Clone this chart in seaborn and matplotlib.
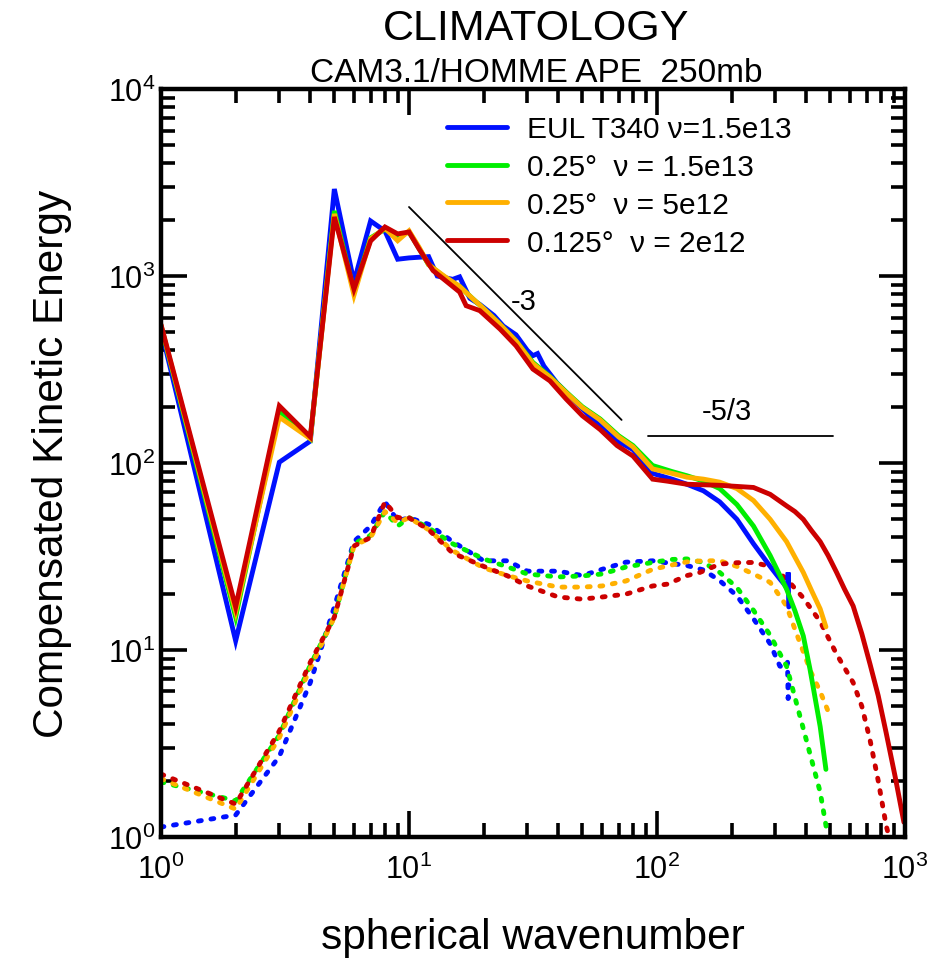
import numpy as np
import pandas as pd
import matplotlib
matplotlib.use("Agg")
import matplotlib.pyplot as plt
import matplotlib.ticker as mticker
import seaborn as sns

# ---------------- data ----------------
labels = ["EUL T340 \u03bd=1.5e13", "0.25\u00b0  \u03bd = 1.5e13",
          "0.25\u00b0  \u03bd = 5e12", "0.125\u00b0  \u03bd = 2e12"]
colors = ["#0010ff", "#00ee00", "#ffb000", "#cc0000"]

# total (solid) compensated KE
k_blue = [1, 2, 3, 4, 5, 6, 7, 8, 9, 10, 12, 13, 15, 16, 17.6, 19.3, 22, 24, 25, 27,
          30, 31.6, 33, 35, 39.5, 45, 50, 55, 62, 70, 80, 96, 115, 132, 154, 179,
          210, 245, 286, 313, 333, 336, 338, 340]
e_blue = [520, 11.2, 101, 131, 2920, 929, 1970, 1740, 1230, 1250, 1270, 1000, 960, 990,
          760, 705, 615, 540, 520, 485, 400, 375, 385, 330, 268, 225, 195, 172, 148,
          130, 118, 88, 82, 77, 71, 62, 50, 37, 28, 24, 21.7, 21, 26, 17]

k_green = [1, 2, 3, 4, 5, 6, 7, 8, 9, 10, 11, 12, 14, 16, 18, 20, 23, 27, 31.6, 37,
           43, 50, 59, 70, 80, 96, 115, 132, 154, 179, 210, 245, 286, 333, 360, 389,
           414, 455, 480]
e_green = [540, 15, 190, 135, 2230, 830, 1600, 1780, 1620, 1720, 1400, 1150, 980, 880,
           760, 670, 560, 450, 345, 290, 240, 200, 172, 140, 124, 97, 90, 85.5, 80, 73,
           60, 46, 32, 21.2, 16.2, 11.9, 7.9, 3.9, 2.3]

k_orange = [1, 2, 3, 4, 5, 6, 7, 8, 9, 10, 11, 12, 14, 16, 18, 20, 23, 27, 31.6, 37,
            43, 50, 59, 70, 80, 96, 115, 132, 154, 179, 210, 245, 286, 333, 360, 389,
            420, 455, 480]
e_orange = [545, 16, 176, 135, 2150, 790, 1580, 1800, 1545, 1745, 1420, 1150, 990, 880,
            760, 670, 560, 450, 340, 288, 238, 198, 170, 138, 122, 93, 88, 84, 82, 79,
            73, 63, 50, 38, 31.4, 26, 20.8, 16.6, 13.3]

k_red = [1, 2, 3, 4, 5, 6, 7, 8, 9, 10, 11, 12.5, 14.6, 16, 17, 19.3, 23.3, 27, 31.6,
         37, 43, 50, 59, 69, 80, 96, 110, 132, 179, 245, 286, 333, 360, 389, 420, 455,
         490, 530, 570, 618, 670, 723, 780, 840, 913, 990]
e_red = [550, 17, 202, 138, 2070, 851, 1540, 1830, 1680, 1720, 1390, 1070, 906, 821,
         694, 653, 520, 424, 318, 275, 220, 179, 151, 124, 109, 82, 80, 77, 76, 74, 68,
         59, 55, 50, 43.5, 38, 32, 26, 21.2, 17.2, 12.2, 8.4, 5.7, 3.6, 2.1, 1.2]

# lower (dotted) component
kd_blue = [1, 2, 3, 4, 5, 6, 7, 8, 9, 10, 12, 15, 20, 25, 30, 40, 50, 60, 75, 96, 115,
           132, 154, 179, 210, 245, 286, 313, 333, 336, 338, 340]
ed_blue = [1.13, 1.31, 2.7, 6.7, 17, 38, 46, 62, 49, 51, 47, 38, 30, 30, 26.4, 26.4, 25,
           27, 29.5, 30, 29, 28.3, 26.8, 23.5, 19.5, 14.7, 10.8, 8.2, 8.0, 8.6, 5.5, 6.5]

kd_green = [1, 2, 3, 4, 5, 6, 7, 8, 9, 10, 12, 15, 20, 25, 30, 40, 50, 60, 75, 96, 115,
            132, 154, 179, 210, 245, 286, 333, 389, 455, 483]
ed_green = [1.97, 1.56, 3.5, 8.3, 15, 37, 41, 55, 46, 51, 45, 37, 30.7, 27.8, 25.5,
            24.6, 24.9, 25.5, 27.8, 29.4, 30.5, 30.7, 29.4, 26, 21.6, 16.3, 12, 8.2,
            3.8, 1.74, 1.1]

kd_orange = [1, 2, 3, 4, 5, 6, 7, 8, 9, 10, 12, 15, 20, 25, 30, 40, 50, 60, 75, 96, 115,
             132, 154, 179, 210, 245, 286, 333, 360, 389, 418, 455, 490]
ed_orange = [2.05, 1.41, 3.4, 8.0, 15, 36, 40, 55, 48, 51, 44, 34, 27.5, 25, 23.4, 21.7,
             21.7, 22, 23.4, 27, 28.5, 29.6, 30, 30, 28, 25.5, 23, 17.2, 12.9, 9.8, 7.6,
             6.0, 4.7]

kd_red = [1, 2, 3, 4, 5, 6, 7, 8, 9, 10, 12, 15, 20, 25, 30, 40, 50, 60, 75, 96, 110,
          132, 149, 179, 210, 245, 286, 333, 389, 455, 530, 618, 670, 723, 780, 840, 880]
ed_red = [2.17, 1.5, 3.69, 8.6, 15, 36, 40, 62, 51, 51, 44, 33, 28, 24.9, 22, 19.2,
          18.7, 19.2, 19.9, 22, 22.5, 25, 26, 28.8, 29.3, 29.4, 28, 24, 19, 14.2, 9.5,
          6.7, 5.0, 3.3, 2.0, 1.15, 0.9]

# reference slope lines
slope3_k = [10, 72]
slope3_e = [2340, 170]
slope53_k = [92, 512]
slope53_e = [139, 139]

# ---------------- plotting ----------------
sns.set_theme(style="ticks")
plt.rcParams["font.family"] = ["Liberation Sans", "DejaVu Sans"]
plt.rcParams["mathtext.fontset"] = "custom"
plt.rcParams["mathtext.rm"] = "Liberation Sans"
plt.rcParams["mathtext.it"] = "Liberation Sans"
plt.rcParams["mathtext.default"] = "regular"
for key in ["text.color", "axes.labelcolor", "xtick.color", "ytick.color",
            "xtick.labelcolor", "ytick.labelcolor", "axes.edgecolor"]:
    plt.rcParams[key] = "black"

fig = plt.figure(figsize=(9.51, 9.62), dpi=100)
ax = fig.add_axes([0.1693, 0.1289, 0.7823, 0.7775])
ax.set_xscale("log")
ax.set_yscale("log")

solid = [(k_blue, e_blue), (k_green, e_green), (k_orange, e_orange), (k_red, e_red)]
dotted = [(kd_blue, ed_blue), (kd_green, ed_green), (kd_orange, ed_orange), (kd_red, ed_red)]

lw = 3.5
for (kk, ee), c in zip(dotted, colors):
    sns.lineplot(x=kk, y=ee, ax=ax, color=c, lw=lw, linestyle=(0, (0.6, 2.0)),
                 dash_capstyle="round", estimator=None, sort=False)
handles = []
for (kk, ee), c, lab in zip(solid, colors, labels):
    sns.lineplot(x=kk, y=ee, ax=ax, color=c, lw=lw, estimator=None, sort=False,
                 solid_joinstyle="miter")
    handles.append(plt.Line2D([], [], color=c, lw=lw, label=lab))

sns.lineplot(x=slope3_k, y=slope3_e, ax=ax, color="black", lw=1.3, estimator=None)
sns.lineplot(x=slope53_k, y=slope53_e, ax=ax, color="black", lw=1.3, estimator=None)
ax.text(0.488, 0.717, "-3", transform=ax.transAxes, fontsize=21, ha="center", va="center")
ax.text(0.761, 0.569, "-5/3", transform=ax.transAxes, fontsize=21, ha="center", va="center")

ax.set_xlim(1, 1000)
ax.set_ylim(1, 1e4)

for s in ax.spines.values():
    s.set_linewidth(3.2)
    s.set_color("black")
    s.set_visible(True)

ax.xaxis.set_major_locator(mticker.LogLocator(base=10))
ax.yaxis.set_major_locator(mticker.LogLocator(base=10))
ax.xaxis.set_minor_locator(mticker.LogLocator(base=10, subs=np.arange(2, 10)))
ax.yaxis.set_minor_locator(mticker.LogLocator(base=10, subs=np.arange(2, 10)))
ax.xaxis.set_minor_formatter(mticker.NullFormatter())
ax.yaxis.set_minor_formatter(mticker.NullFormatter())
ax.xaxis.set_major_formatter(mticker.LogFormatterSciNotation())
ax.yaxis.set_major_formatter(mticker.LogFormatterSciNotation())

ax.tick_params(which="both", direction="in", top=True, right=True, colors="black",
               labelsize=22)
ax.tick_params(which="major", length=19, width=2.6)
ax.tick_params(which="minor", length=10, width=2.6)
ax.tick_params(axis="x", which="major", pad=12)
ax.tick_params(axis="y", which="major", pad=4)

ax.set_xlabel("spherical wavenumber", fontsize=30.5, labelpad=23)
ax.set_ylabel("Compensated Kinetic Energy", fontsize=30.5, labelpad=26)

fig.text(0.5635, 0.9695, "CLIMATOLOGY", fontsize=31, ha="center", va="center")
fig.text(0.5635, 0.9235, "CAM3.1/HOMME APE  250mb", fontsize=24, ha="center", va="center")

ax.legend(handles=handles, loc="upper left", bbox_to_anchor=(0.385, 0.965),
          frameon=False, fontsize=21.5, handlelength=2.0, handletextpad=0.65,
          labelspacing=0.33, borderpad=0, borderaxespad=0)

fig.savefig("out.png", dpi=100, facecolor="white")
